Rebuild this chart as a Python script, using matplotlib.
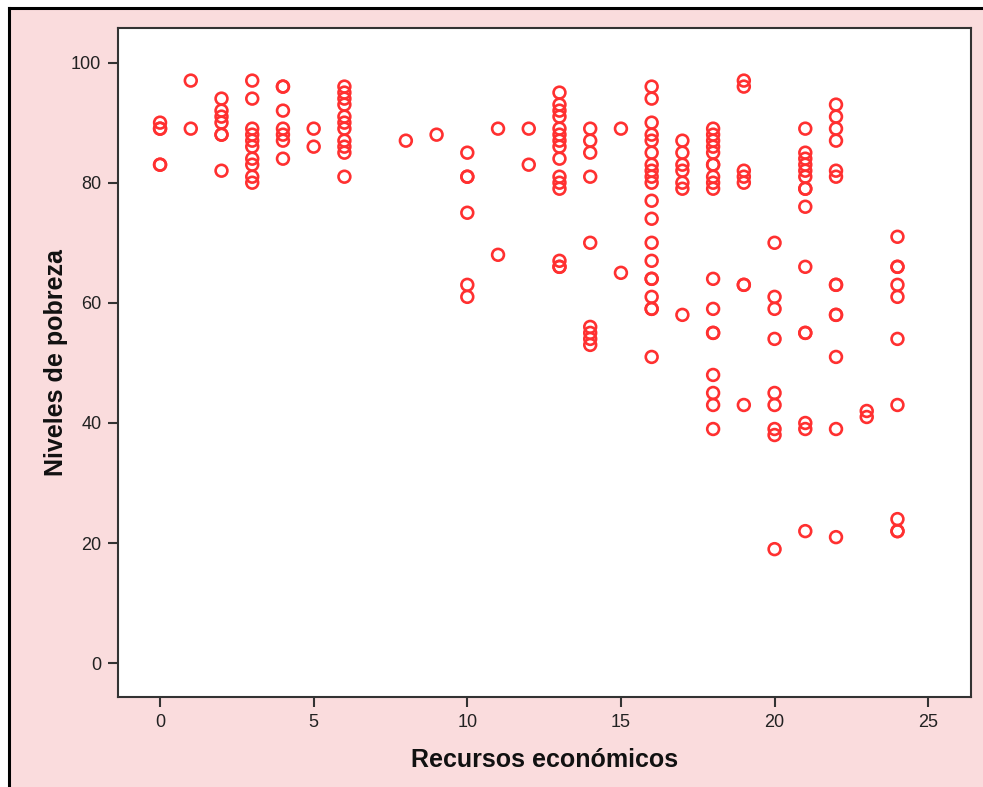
import matplotlib
matplotlib.use("Agg")
import matplotlib.pyplot as plt
from matplotlib.lines import Line2D

plt.rcParams["font.family"] = ["Liberation Sans", "DejaVu Sans"]

# Recursos económicos (x) -> Niveles de pobreza (y), read column by column
recursos = {
    0: [90, 89, 89, 83, 83],
    1: [97, 89],
    2: [94, 92, 91, 90, 88, 88, 82],
    3: [97, 94, 89, 88, 87, 86, 84, 83, 81, 80],
    4: [96, 96, 92, 89, 88, 87, 84],
    5: [89, 86],
    6: [96, 95, 94, 93, 91, 90, 89, 87, 86, 85, 81],
    8: [87],
    9: [88],
    10: [85, 81, 81, 75, 63, 61],
    11: [89, 68],
    12: [89, 83],
    13: [95, 93, 92, 91, 89, 88, 87, 86, 84, 81, 80, 79, 67, 66, 66],
    14: [89, 87, 85, 81, 70, 56, 55, 54, 53],
    15: [89, 65],
    16: [96, 94, 90, 88, 87, 85, 83, 82, 81, 80, 77, 74, 70, 67, 64, 64,
         61, 59, 59, 51],
    17: [87, 85, 83, 82, 80, 79, 58],
    18: [89, 88, 87, 86, 85, 83, 83, 81, 80, 79, 64, 59, 55, 55, 48, 45,
         43, 39],
    19: [97, 96, 82, 81, 80, 63, 63, 43],
    20: [70, 61, 59, 54, 45, 43, 39, 38, 19],
    21: [89, 85, 84, 83, 82, 81, 79, 79, 76, 66, 55, 55, 40, 39, 22],
    22: [93, 91, 89, 87, 82, 81, 63, 63, 58, 58, 51, 39, 21],
    23: [42, 41],
    24: [71, 66, 66, 63, 61, 54, 43, 24, 22, 22],
}

xs = [x for x, vals in recursos.items() for _ in vals]
ys = [v for vals in recursos.values() for v in vals]

x_ticks = [0, 5, 10, 15, 20, 25]
y_ticks = [0, 20, 40, 60, 80, 100]

fig = plt.figure(figsize=(9.83, 7.87), dpi=100, facecolor="#fadcdd")
ax = fig.add_axes([0.120, 0.114, 0.868, 0.850])
ax.set_facecolor("white")

ax.scatter(xs, ys, s=72, facecolors="none", edgecolors="#ff3030",
           linewidths=1.9, zorder=3)

ax.set_xlim(-1.37, 26.4)
ax.set_ylim(-5.66, 105.7)
ax.set_xticks(x_ticks)
ax.set_yticks(y_ticks)
ax.tick_params(direction="out", length=7, width=1.5, color="#333333",
               labelsize=13, labelcolor="#222222", pad=5)
for sp in ax.spines.values():
    sp.set_color("#333333")
    sp.set_linewidth(1.5)

ax.set_xlabel("Recursos económicos", fontsize=18, fontweight="bold",
              color="#111111", labelpad=12)
ax.set_ylabel("Niveles de pobreza", fontsize=18, fontweight="bold",
              color="#111111", labelpad=2)

# outer frame lines (top and left) like the screenshot border
fig.add_artist(Line2D([0.009, 1.0], [0.990, 0.990], transform=fig.transFigure,
                      color="black", linewidth=2.2))
fig.add_artist(Line2D([0.009, 0.009], [0.0, 0.990], transform=fig.transFigure,
                      color="black", linewidth=2.2))
fig.patches.append(plt.Rectangle((0, 0.991), 1, 0.009, transform=fig.transFigure,
                                 color="white", zorder=-1))
fig.patches.append(plt.Rectangle((0, 0), 0.008, 1, transform=fig.transFigure,
                                 color="white", zorder=-1))

fig.savefig("out.png", dpi=100, facecolor=fig.get_facecolor())
